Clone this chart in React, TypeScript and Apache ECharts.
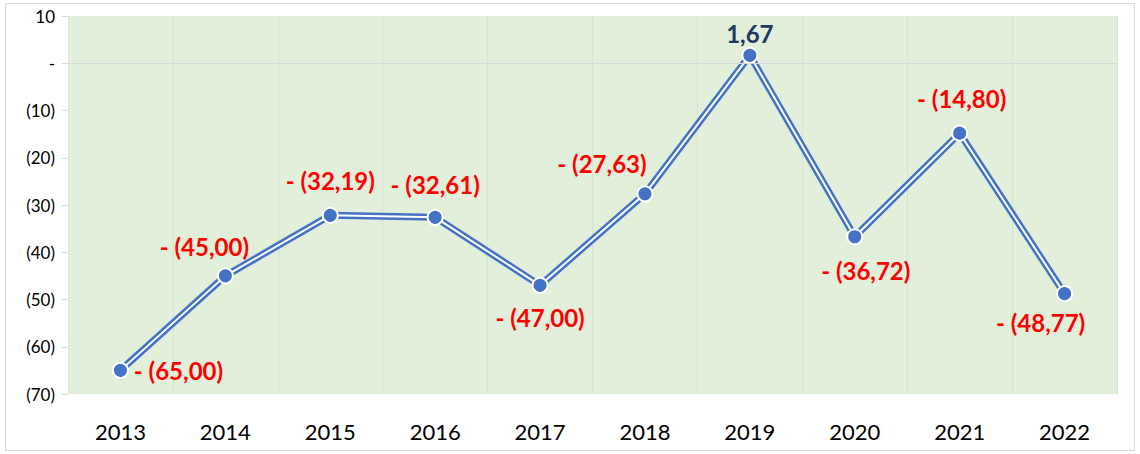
import React, { useEffect, useRef } from "react";
import * as echarts from "echarts";

const years = ["2013", "2014", "2015", "2016", "2017", "2018", "2019", "2020", "2021", "2022"];
const values = [-65.0, -45.0, -32.19, -32.61, -47.0, -27.63, 1.67, -36.72, -14.8, -48.77];
const labelOffsets: [number, number][] = [
  [58, 0], [-21, -29], [0, -35], [0, -33], [0, 32], [-43, -30], [0, -22], [11, 34], [2, -35], [-24, 29],
];

const fmtVal = (v: number) => {
  const s = Math.abs(v).toFixed(2).replace(".", ",");
  return v < 0 ? `- (${s})` : s;
};
const fmtAxis = (v: number) => (v === 0 ? "-" : v < 0 ? `(${Math.abs(v)})` : `${v}`);

export default function App() {
  const ref = useRef<HTMLDivElement>(null);
  useEffect(() => {
    document.body.style.margin = "0";
    const chart = echarts.init(ref.current!, null, { renderer: "svg" });
    const font = "Lato";
    chart.setOption({
      animation: false,
      backgroundColor: "#ffffff",
      textStyle: { fontFamily: font },
      graphic: [
        {
          type: "rect",
          shape: { x: 5.5, y: 3.5, width: 1129, height: 447 },
          style: { fill: "none", stroke: "#d9d9d9", lineWidth: 1 },
          silent: true,
        },
      ],
      grid: {
        left: 68,
        right: 23,
        top: 16,
        bottom: 60,
        show: true,
        backgroundColor: "#e2efda",
        borderWidth: 0,
      },
      xAxis: {
        type: "category",
        data: years,
        boundaryGap: true,
        axisLine: { show: false, onZero: false },
        axisTick: { show: false },
        axisLabel: { color: "#000", fontSize: 22, margin: 26, fontFamily: font },
        splitLine: { show: true, lineStyle: { color: "#d6e3cf", width: 1 } },
      },
      yAxis: {
        type: "value",
        min: -70,
        max: 10,
        interval: 10,
        axisLine: { show: true, lineStyle: { color: "#e3e3e3", width: 1 } },
        axisTick: { show: true, length: 6, lineStyle: { color: "#d9d9d9" } },
        axisLabel: {
          color: "#000",
          fontSize: 17,
          margin: 13,
          fontFamily: font,
          formatter: (v: number) => fmtAxis(v),
        },
        splitLine: { show: false },
      },
      series: [
        {
          type: "line",
          data: values,
          symbol: "none",
          lineStyle: { color: "#4472c4", width: 7 },
          z: 2,
          markLine: {
            silent: true,
            symbol: "none",
            label: { show: false },
            lineStyle: { color: "#d9d9d9", width: 1, type: "solid" },
            data: [{ yAxis: 0 }],
          },
        },
        {
          type: "line",
          data: values.map((v, i) => ({
            value: v,
            label: {
              show: true,
              position: "inside",
              offset: labelOffsets[i],
              align: "center",
              verticalAlign: "middle",
              color: v >= 0 ? "#1f3864" : "#ff0000",
              fontWeight: "bold",
              fontSize: 24,
              fontFamily: font,
              formatter: () => fmtVal(v),
            },
          })),
          symbol: "circle",
          symbolSize: 15,
          itemStyle: { color: "#4472c4", borderColor: "#ffffff", borderWidth: 2 },
          lineStyle: { color: "#ffffff", width: 2 },
          z: 3,
        },
      ],
    });
    return () => chart.dispose();
  }, []);
  return <div ref={ref} style={{ width: 1140, height: 454 }} />;
}
